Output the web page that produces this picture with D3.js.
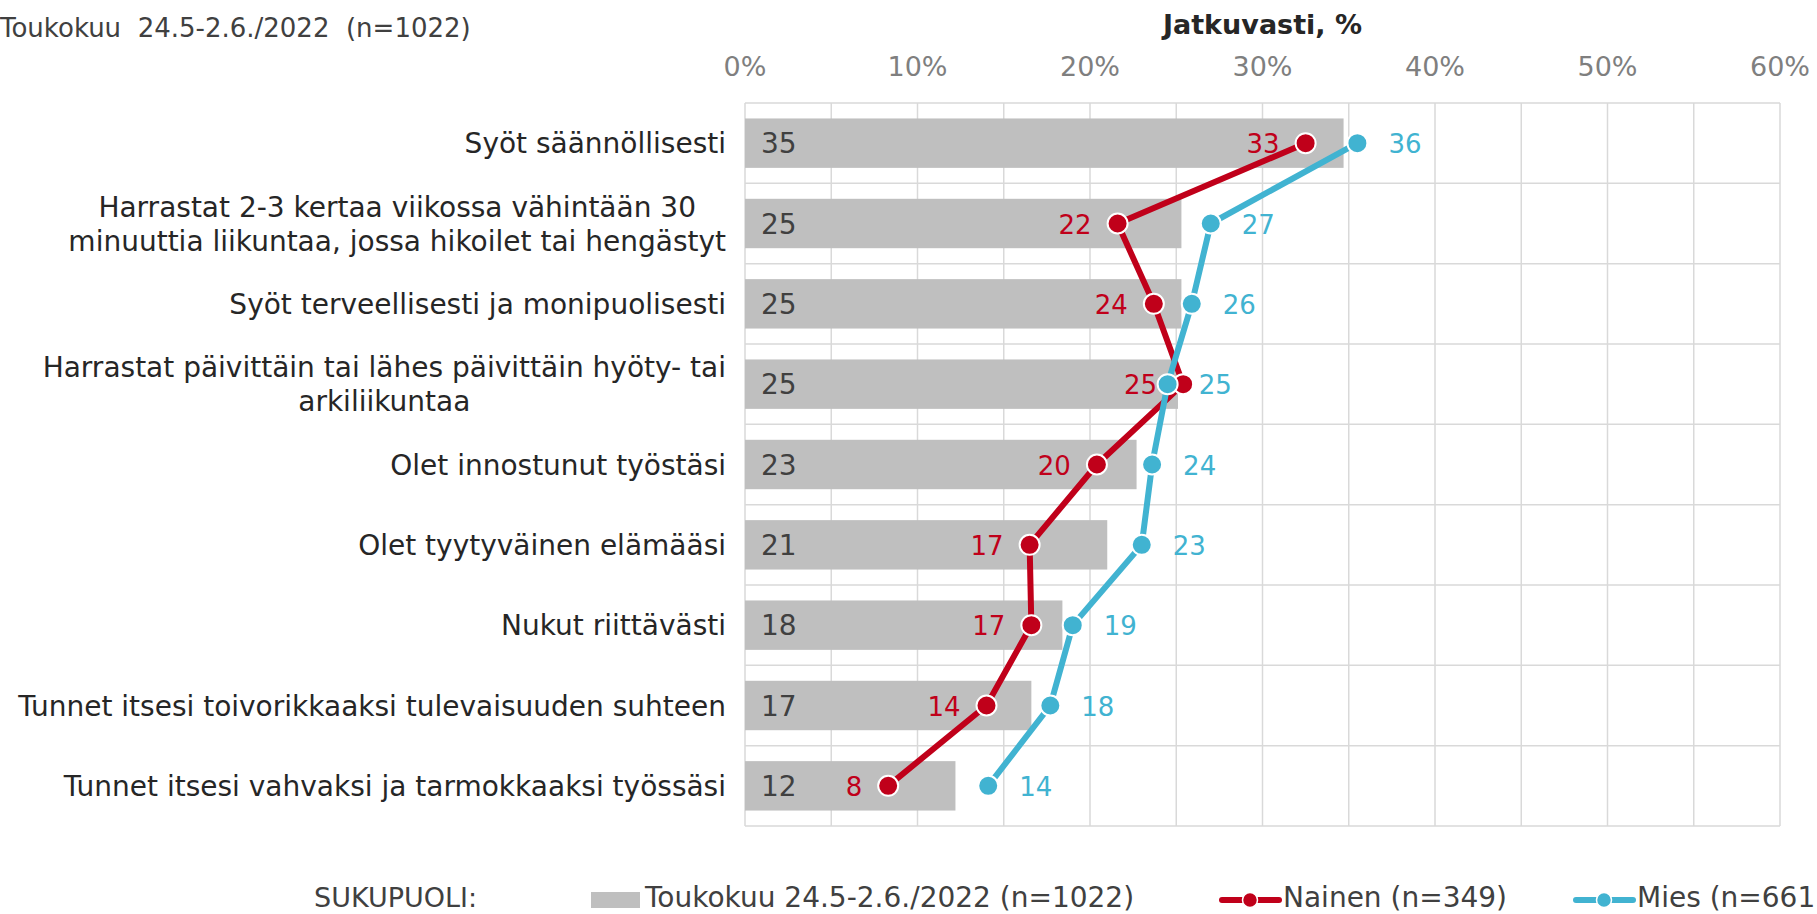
<!DOCTYPE html>
<html>
<head>
<meta charset="utf-8">
<script src="https://cdnjs.cloudflare.com/ajax/libs/d3/7.8.5/d3.min.js"></script>
<style>
  body { margin: 0; background: #fff; }
  text { font-family: "DejaVu Sans", Verdana, sans-serif; }
</style>
</head>
<body>
<div id="chart"></div>
<script>
var categories = [
  ["Syöt säännöllisesti"],
  ["Harrastat 2-3 kertaa viikossa vähintään 30", "minuuttia liikuntaa, jossa hikoilet tai hengästyt"],
  ["Syöt terveellisesti ja monipuolisesti"],
  ["Harrastat päivittäin tai lähes päivittäin hyöty- tai", "arkiliikuntaa"],
  ["Olet innostunut työstäsi"],
  ["Olet tyytyväinen elämääsi"],
  ["Nukut riittävästi"],
  ["Tunnet itsesi toivorikkaaksi tulevaisuuden suhteen"],
  ["Tunnet itsesi vahvaksi ja tarmokkaaksi työssäsi"]
];
var total  = [34.7, 25.3, 25.3, 25.1, 22.7, 21.0, 18.4, 16.6, 12.2];
var nainen = [32.5, 21.6, 23.7, 25.4, 20.4, 16.5, 16.6, 14.0, 8.3];
var mies   = [35.5, 27.0, 25.9, 24.5, 23.6, 23.0, 19.0, 17.7, 14.1];
var xTicks = [0, 10, 20, 30, 40, 50, 60];
var xGrid = d3.range(0, 61, 5);

var legendNames = ["Toukokuu 24.5-2.6./2022 (n=1022)", "Nainen (n=349)", "Mies (n=661)"];

var width = 1817, height = 914;
var red = "#c0001a", blue = "#41b3d1", grey = "#bfbfbf", gridCol = "#d9d9d9";

var svg = d3.select("#chart").append("svg")
    .attr("width", width)
    .attr("height", height);

var x = d3.scaleLinear().domain([0, 60]).range([745, 1780]);
var idx = d3.range(categories.length);
var y = d3.scaleBand().domain(idx).range([103, 826]);
var barH = y.bandwidth() * 0.615;
function cy(i) { return y(i) + y.bandwidth() / 2; }

// grid
svg.selectAll(".vgrid").data(xGrid).enter().append("line")
    .attr("x1", function(d) { return x(d); })
    .attr("x2", function(d) { return x(d); })
    .attr("y1", 103).attr("y2", 826)
    .attr("stroke", gridCol).attr("stroke-width", 1.5);

svg.selectAll(".hgrid").data(d3.range(categories.length + 1)).enter().append("line")
    .attr("x1", x(0)).attr("x2", x(60))
    .attr("y1", function(d) { return d < categories.length ? y(d) : 826; })
    .attr("y2", function(d) { return d < categories.length ? y(d) : 826; })
    .attr("stroke", gridCol).attr("stroke-width", 1.5);

// x tick labels
svg.selectAll(".tick").data(xTicks).enter().append("text")
    .attr("x", function(d) { return x(d); })
    .attr("y", 76)
    .attr("text-anchor", "middle")
    .attr("font-size", "27px")
    .attr("fill", "#7f7f7f")
    .text(function(d) { return d + "%"; });

// title & top-left note
svg.append("text")
    .attr("x", (x(0) + x(60)) / 2).attr("y", 34)
    .attr("text-anchor", "middle")
    .attr("font-size", "27px").attr("font-weight", "bold")
    .attr("fill", "#262626")
    .text("Jatkuvasti, %");

svg.append("text")
    .attr("x", 0).attr("y", 37)
    .attr("font-size", "26px")
    .attr("fill", "#404040")
    .attr("xml:space", "preserve")
    .text("Toukokuu  24.5-2.6./2022  (n=1022)");

// category labels
var labelRight = 726;
categories.forEach(function(lines, i) {
  var g = svg.append("g");
  var lh = 34;
  var texts = lines.map(function(line, k) {
    return g.append("text")
      .attr("y", cy(i) + (k - (lines.length - 1) / 2) * lh + 10)
      .attr("font-size", "28px")
      .attr("fill", "#262626")
      .attr("text-anchor", "middle")
      .text(line);
  });
  var maxW = d3.max(texts, function(t) { return t.node().getComputedTextLength(); });
  texts.forEach(function(t) { t.attr("x", labelRight - maxW / 2); });
});

// bars
svg.selectAll(".bar").data(total).enter().append("rect")
    .attr("x", x(0))
    .attr("y", function(d, i) { return cy(i) - barH / 2; })
    .attr("width", function(d) { return x(d) - x(0); })
    .attr("height", barH)
    .attr("fill", grey);

svg.selectAll(".barlabel").data(total).enter().append("text")
    .attr("x", x(0) + 16)
    .attr("y", function(d, i) { return cy(i) + 10; })
    .attr("font-size", "28px")
    .attr("fill", "#404040")
    .text(function(d) { return Math.round(d); });

// lines
function drawSeries(vals, col) {
  var line = d3.line()
      .x(function(d) { return x(d); })
      .y(function(d, i) { return cy(i); });
  svg.append("path")
      .datum(vals)
      .attr("d", line)
      .attr("fill", "none")
      .attr("stroke", col)
      .attr("stroke-width", 6)
      .attr("stroke-linejoin", "round");
  svg.append("g").selectAll("circle").data(vals).enter().append("circle")
      .attr("cx", function(d) { return x(d); })
      .attr("cy", function(d, i) { return cy(i); })
      .attr("r", 10)
      .attr("fill", col)
      .attr("stroke", "#fff")
      .attr("stroke-width", 2);
}
drawSeries(nainen, red);
drawSeries(mies, blue);

svg.append("g").selectAll("text").data(nainen).enter().append("text")
    .attr("x", function(d) { return x(d) - 26; })
    .attr("y", function(d, i) { return cy(i) + 10; })
    .attr("text-anchor", "end")
    .attr("font-size", "26px")
    .attr("fill", red)
    .text(function(d) { return Math.round(d); });

svg.append("g").selectAll("text").data(mies).enter().append("text")
    .attr("x", function(d) { return x(d) + 31; })
    .attr("y", function(d, i) { return cy(i) + 10; })
    .attr("font-size", "26px")
    .attr("fill", blue)
    .text(function(d) { return Math.round(d); });

// legend
var ly = 900, lbase = 907;
svg.append("text")
    .attr("x", 314).attr("y", lbase)
    .attr("font-size", "27px").attr("fill", "#404040")
    .text("SUKUPUOLI:");

svg.append("rect")
    .attr("x", 591).attr("y", ly - 8).attr("width", 49).attr("height", 16)
    .attr("fill", grey);
svg.append("text")
    .attr("x", 645).attr("y", lbase)
    .attr("font-size", "28px").attr("fill", "#404040")
    .text(legendNames[0]);

[[1222, red, 1], [1576, blue, 2]].forEach(function(l) {
  svg.append("line")
      .attr("x1", l[0]).attr("x2", l[0] + 57)
      .attr("y1", ly).attr("y2", ly)
      .attr("stroke", l[1]).attr("stroke-width", 6)
      .attr("stroke-linecap", "round");
  svg.append("circle")
      .attr("cx", l[0] + 28).attr("cy", ly).attr("r", 7.5)
      .attr("fill", l[1]).attr("stroke", "#fff").attr("stroke-width", 1.5);
  svg.append("text")
      .attr("x", l[0] + 61).attr("y", lbase)
      .attr("font-size", "28px").attr("fill", "#404040")
      .text(legendNames[l[2]]);
});
</script>
</body>
</html>
